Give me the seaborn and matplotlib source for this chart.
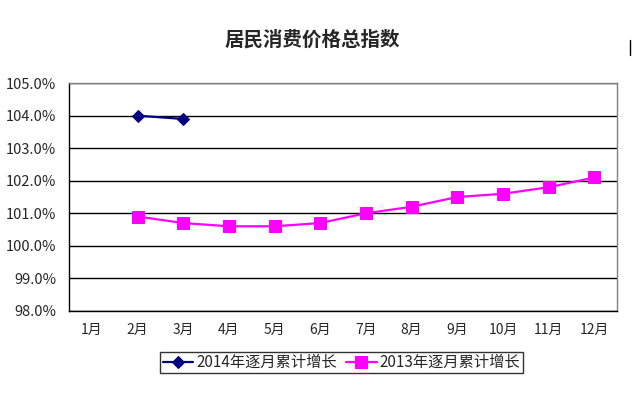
import matplotlib
matplotlib.use("Agg")
import matplotlib.pyplot as plt
import seaborn as sns
import numpy as np
import pandas as pd

# data
months = ["1月", "2月", "3月", "4月", "5月", "6月", "7月", "8月", "9月", "10月", "11月", "12月"]
idx_2014 = [np.nan, 104.0, 103.9, np.nan, np.nan, np.nan, np.nan, np.nan, np.nan, np.nan, np.nan, np.nan]
idx_2013 = [np.nan, 100.9, 100.7, 100.6, 100.6, 100.7, 101.0, 101.2, 101.5, 101.6, 101.8, 102.1]
label_2014 = "2014年逐月累计增长"
label_2013 = "2013年逐月累计增长"

sns.set_style("white")
plt.rcParams["font.family"] = ["Noto Sans CJK SC", "DejaVu Sans"]

df = pd.DataFrame({"pos": np.arange(1, 13), "y2014": idx_2014, "y2013": idx_2013})

fig = plt.figure(figsize=(6.33, 3.96), dpi=100)
ax = fig.add_axes([0.109, 0.215, 0.866, 0.575])

sns.lineplot(data=df, x="pos", y="y2014", ax=ax, color="#000080", linewidth=1.6,
             marker="D", markersize=6, markeredgecolor="#000080", label=label_2014)
sns.lineplot(data=df, x="pos", y="y2013", ax=ax, color="#FF00FF", linewidth=1.6,
             marker="s", markersize=8, markeredgecolor="#FF00FF", label=label_2013)

# axes
ax.set_xlim(0.5, 12.5)
ax.set_ylim(98, 105)
ax.set_yticks(np.arange(98, 105.1, 1))
ax.set_yticklabels([f"{v:.1f}%" for v in np.arange(98, 105.1, 1)], fontsize=10.5)
ax.set_xticks(np.arange(1, 13))
ax.set_xticklabels(months, fontsize=10)
ax.set_xticks(np.arange(0.5, 12.6, 1), minor=True)
ax.tick_params(axis="x", which="major", length=0, pad=9)
ax.tick_params(axis="x", which="minor", length=5, width=1, color="black", direction="out")
ax.tick_params(axis="y", length=0, pad=9)
ax.set_xlabel("")
ax.set_ylabel("")
ax.grid(axis="y", color="black", linewidth=1)
ax.set_axisbelow(True)
for side in ["left", "bottom"]:
    ax.spines[side].set_color("black")
    ax.spines[side].set_linewidth(1)
for side in ["top", "right"]:
    ax.spines[side].set_color("#808080")
    ax.spines[side].set_linewidth(1)

# title
fig.text(0.494, 0.9, "居民消费价格总指数", ha="center", va="center", fontsize=14, fontweight="bold")

# legend
leg = ax.legend(loc="upper center", bbox_to_anchor=(0.497, -0.18), ncol=2, fontsize=11,
                frameon=True, fancybox=False, edgecolor="black", borderpad=0.15,
                handlelength=2.0, columnspacing=0.6, handletextpad=0.2, borderaxespad=0)
leg.get_frame().set_linewidth(1)

# chart border mark at right edge
fig.add_artist(plt.Line2D([0.995, 0.995], [0.86, 0.9], color="black", linewidth=1))

fig.savefig("out.png", dpi=100)
